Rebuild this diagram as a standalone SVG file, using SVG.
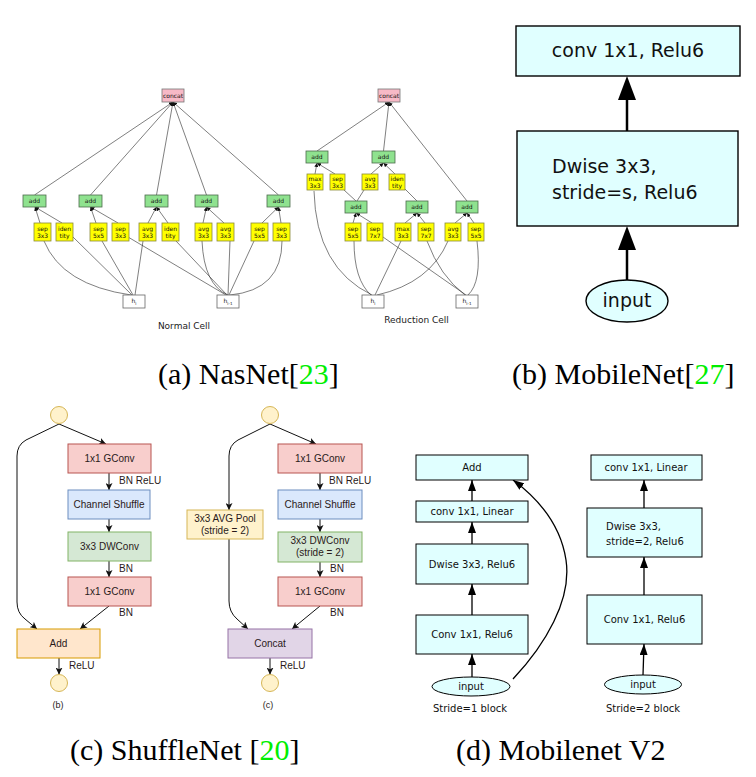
<svg xmlns="http://www.w3.org/2000/svg" width="756" height="777" viewBox="0 0 756 777">
<style>
  .nas { font-family: "DejaVu Sans", sans-serif; font-size: 6px; fill: #111; text-anchor: middle; }
  .nascap { font-family: "DejaVu Sans", sans-serif; font-size: 9px; fill: #222; text-anchor: middle; }
  .cat { fill: #f7b9c6; stroke: #777; stroke-width: 0.8; }
  .add { fill: #8fe28f; stroke: #4d6b4d; stroke-width: 0.8; }
  .op { fill: #ffff00; stroke: #8a8a3a; stroke-width: 0.8; }
  .hin { fill: #fff; stroke: #666; stroke-width: 0.8; }
  .ne { fill: none; stroke: #2a2a2a; stroke-width: 0.6; }
  .mb { fill: #e0ffff; stroke: #000; stroke-width: 1.4; }
  .mbt { font-family: "DejaVu Sans", sans-serif; font-size: 19px; fill: #111; }
  .mbe { fill: none; stroke: #000; stroke-width: 2.5; }
  .sh { font-family: "Liberation Sans", Arial, sans-serif; font-size: 10px; fill: #2a1a1a; }
  .shc { text-anchor: middle; }
  .se { fill: none; stroke: #111; stroke-width: 1; }
  .v2 { fill: #e0ffff; stroke: #000; stroke-width: 1; }
  .v2t { font-family: "DejaVu Sans", sans-serif; font-size: 10px; fill: #111; }
  .v2e { fill: none; stroke: #000; stroke-width: 1.3; }
  .cap { font-family: "Liberation Serif", "Times New Roman", serif; font-size: 30px; fill: #000; }
  .ref { fill: #00ee00; }
</style>
<defs>
  <marker id="ahNas" viewBox="0 0 6 6" refX="6" refY="3" markerWidth="4" markerHeight="4" markerUnits="userSpaceOnUse" orient="auto">
    <path d="M0,0 L6,3 L0,6 z" fill="#111"/>
  </marker>
  <marker id="ahBig" viewBox="0 0 24 18" refX="0" refY="9" markerWidth="24" markerHeight="18" markerUnits="userSpaceOnUse" orient="auto">
    <path d="M0,0 L24,9 L0,18 z" fill="#000"/>
  </marker>
  <marker id="ahShf" viewBox="0 0 8 8" refX="8" refY="4" markerWidth="7" markerHeight="7" markerUnits="userSpaceOnUse" orient="auto">
    <path d="M0,0 L8,4 L0,8 L2,4 z" fill="#111"/>
  </marker>
  <marker id="ahV2" viewBox="0 0 11 8" refX="11" refY="4" markerWidth="11" markerHeight="8" markerUnits="userSpaceOnUse" orient="auto">
    <path d="M0,0 L11,4 L0,8 z" fill="#000"/>
  </marker>
</defs>
<rect width="756" height="777" fill="#fff"/>

<!-- ===== (a) NasNet: normal cell ===== -->
<g id="nas-normal-edges">
  <!-- adds into concat -->
  <path class="ne" marker-end="url(#ahNas)" d="M34.5,195 L173,102"/>
  <path class="ne" marker-end="url(#ahNas)" d="M90.5,195 L173,102"/>
  <path class="ne" marker-end="url(#ahNas)" d="M156.5,195 L173,102"/>
  <path class="ne" marker-end="url(#ahNas)" d="M206.5,195 L173,102"/>
  <path class="ne" marker-end="url(#ahNas)" d="M278.5,195 L173,102"/>
  <!-- ops into adds -->
  <path class="ne" marker-end="url(#ahNas)" d="M40,223 L35,207"/>
  <path class="ne" marker-end="url(#ahNas)" d="M62,223 L35,207"/>
  <path class="ne" marker-end="url(#ahNas)" d="M96,223 L90.5,207"/>
  <path class="ne" marker-end="url(#ahNas)" d="M118,223 L90.5,207"/>
  <path class="ne" marker-end="url(#ahNas)" d="M148,223 L156.5,207"/>
  <path class="ne" marker-end="url(#ahNas)" d="M168,223 L156.5,207"/>
  <path class="ne" marker-end="url(#ahNas)" d="M203,223 L206.5,207"/>
  <path class="ne" marker-end="url(#ahNas)" d="M224,223 L206.5,207"/>
  <path class="ne" marker-end="url(#ahNas)" d="M262,223 L278.5,207"/>
  <path class="ne" marker-end="url(#ahNas)" d="M281,223 L278.5,207"/>
  <!-- inputs to ops -->
  <path class="ne" d="M44,241 Q62,285 131,295"/>
  <path class="ne" d="M73,237 L132,295"/>
  <path class="ne" d="M102,241 L133,295"/>
  <path class="ne" d="M128,237 L226,295"/>
  <path class="ne" d="M143,241 L135,295"/>
  <path class="ne" d="M176,241 L227,295"/>
  <path class="ne" d="M202,241 Q204,285 228,295"/>
  <path class="ne" d="M230,241 L228,295"/>
  <path class="ne" d="M254,241 L229,295"/>
  <path class="ne" d="M282,241 Q282,290 230,295"/>
</g>
<g id="nas-normal-concat"><rect class="cat" x="162" y="89" width="22" height="13"/><text class="nas" x="173" y="97.5">concat</text></g>
<g id="nas-normal-add1"><rect class="add" x="23" y="195" width="23" height="12"/><text class="nas" x="34.5" y="203">add</text></g>
<g id="nas-normal-add2"><rect class="add" x="79" y="195" width="23" height="12"/><text class="nas" x="90.5" y="203">add</text></g>
<g id="nas-normal-add3"><rect class="add" x="145" y="195" width="23" height="12"/><text class="nas" x="156.5" y="203">add</text></g>
<g id="nas-normal-add4"><rect class="add" x="195" y="195" width="23" height="12"/><text class="nas" x="206.5" y="203">add</text></g>
<g id="nas-normal-add5"><rect class="add" x="267" y="195" width="23" height="12"/><text class="nas" x="278.5" y="203">add</text></g>
<g id="nas-normal-op1"><rect class="op" x="34" y="223" width="17" height="18"/><text class="nas" x="42.5" y="230.5">sep</text><text class="nas" x="42.5" y="237.5">3x3</text></g>
<g id="nas-normal-op2"><rect class="op" x="56" y="223" width="17" height="18"/><text class="nas" x="64.5" y="230.5">iden</text><text class="nas" x="64.5" y="237.5">tity</text></g>
<g id="nas-normal-op3"><rect class="op" x="90" y="223" width="17" height="18"/><text class="nas" x="98.5" y="230.5">sep</text><text class="nas" x="98.5" y="237.5">5x5</text></g>
<g id="nas-normal-op4"><rect class="op" x="112" y="223" width="17" height="18"/><text class="nas" x="120.5" y="230.5">sep</text><text class="nas" x="120.5" y="237.5">3x3</text></g>
<g id="nas-normal-op5"><rect class="op" x="139" y="223" width="17" height="18"/><text class="nas" x="147.5" y="230.5">avg</text><text class="nas" x="147.5" y="237.5">3x3</text></g>
<g id="nas-normal-op6"><rect class="op" x="162" y="223" width="17" height="18"/><text class="nas" x="170.5" y="230.5">iden</text><text class="nas" x="170.5" y="237.5">tity</text></g>
<g id="nas-normal-op7"><rect class="op" x="195" y="223" width="17" height="18"/><text class="nas" x="203.5" y="230.5">avg</text><text class="nas" x="203.5" y="237.5">3x3</text></g>
<g id="nas-normal-op8"><rect class="op" x="217" y="223" width="17" height="18"/><text class="nas" x="225.5" y="230.5">avg</text><text class="nas" x="225.5" y="237.5">3x3</text></g>
<g id="nas-normal-op9"><rect class="op" x="251" y="223" width="17" height="18"/><text class="nas" x="259.5" y="230.5">sep</text><text class="nas" x="259.5" y="237.5">5x5</text></g>
<g id="nas-normal-op10"><rect class="op" x="273" y="223" width="17" height="18"/><text class="nas" x="281.5" y="230.5">sep</text><text class="nas" x="281.5" y="237.5">3x3</text></g>
<g id="nas-normal-hi"><rect class="hin" x="123" y="295" width="22" height="13"/><text class="nas" x="134" y="303">h<tspan font-size="4" dy="1.5">i</tspan></text></g>
<g id="nas-normal-hi1"><rect class="hin" x="217" y="295" width="22" height="13"/><text class="nas" x="228" y="303">h<tspan font-size="4" dy="1.5">i-1</tspan></text></g>
<text class="nascap" x="184" y="329">Normal Cell</text>

<!-- ===== (a) NasNet: reduction cell ===== -->
<g id="nas-red-edges">
  <path class="ne" marker-end="url(#ahNas)" d="M317,151 L389,102"/>
  <path class="ne" marker-end="url(#ahNas)" d="M383.5,151 L389,102"/>
  <path class="ne" marker-end="url(#ahNas)" d="M467,201 L389,102"/>
  <path class="ne" marker-end="url(#ahNas)" d="M315,174 L317,163"/>
  <path class="ne" marker-end="url(#ahNas)" d="M335,174 L317,163"/>
  <path class="ne" marker-end="url(#ahNas)" d="M371,174 L383.5,163"/>
  <path class="ne" marker-end="url(#ahNas)" d="M395,174 L383.5,163"/>
  <path class="ne" d="M344,190 L356,201"/>
  <path class="ne" d="M364,190 L357,201"/>
  <path class="ne" d="M404,188 L417,201"/>
  <path class="ne" marker-end="url(#ahNas)" d="M353,223 L356,213"/>
  <path class="ne" marker-end="url(#ahNas)" d="M372,223 L356,213"/>
  <path class="ne" marker-end="url(#ahNas)" d="M405,223 L417,213"/>
  <path class="ne" marker-end="url(#ahNas)" d="M425,223 L417,213"/>
  <path class="ne" marker-end="url(#ahNas)" d="M455,223 L467,213"/>
  <path class="ne" marker-end="url(#ahNas)" d="M474,223 L467,213"/>
  <path class="ne" d="M314,191 Q316,268 372,295"/>
  <path class="ne" d="M354,241 Q354,280 371,295"/>
  <path class="ne" d="M383,237 L466,295"/>
  <path class="ne" d="M401,241 L375,295"/>
  <path class="ne" d="M427,241 Q440,276 465,295"/>
  <path class="ne" d="M448,241 Q430,283 377,295"/>
  <path class="ne" d="M477,241 Q482,282 468,295"/>
</g>
<g id="nas-red-concat"><rect class="cat" x="378" y="89" width="22" height="13"/><text class="nas" x="389" y="97.5">concat</text></g>
<g id="nas-red-addA"><rect class="add" x="306" y="151" width="22" height="12"/><text class="nas" x="317" y="159">add</text></g>
<g id="nas-red-addB"><rect class="add" x="372" y="151" width="23" height="12"/><text class="nas" x="383.5" y="159">add</text></g>
<g id="nas-red-addC"><rect class="add" x="345" y="201" width="22" height="12"/><text class="nas" x="356" y="209">add</text></g>
<g id="nas-red-addD"><rect class="add" x="406" y="201" width="22" height="12"/><text class="nas" x="417" y="209">add</text></g>
<g id="nas-red-addE"><rect class="add" x="456" y="201" width="22" height="12"/><text class="nas" x="467" y="209">add</text></g>
<g id="nas-red-op1"><rect class="op" x="307" y="174" width="16" height="16"/><text class="nas" x="315" y="181">max</text><text class="nas" x="315" y="188">3x3</text></g>
<g id="nas-red-op2"><rect class="op" x="330" y="174" width="15" height="16"/><text class="nas" x="337.5" y="181">sep</text><text class="nas" x="337.5" y="188">3x3</text></g>
<g id="nas-red-op3"><rect class="op" x="362" y="174" width="16" height="16"/><text class="nas" x="370" y="181">avg</text><text class="nas" x="370" y="188">3x3</text></g>
<g id="nas-red-op4"><rect class="op" x="389" y="174" width="16" height="16"/><text class="nas" x="397" y="181">iden</text><text class="nas" x="397" y="188">tity</text></g>
<g id="nas-red-op5"><rect class="op" x="345" y="223" width="16" height="18"/><text class="nas" x="353" y="230.5">sep</text><text class="nas" x="353" y="237.5">5x5</text></g>
<g id="nas-red-op6"><rect class="op" x="367" y="223" width="16" height="18"/><text class="nas" x="375" y="230.5">sep</text><text class="nas" x="375" y="237.5">7x7</text></g>
<g id="nas-red-op7"><rect class="op" x="395" y="223" width="16" height="18"/><text class="nas" x="403" y="230.5">max</text><text class="nas" x="403" y="237.5">3x3</text></g>
<g id="nas-red-op8"><rect class="op" x="418" y="223" width="16" height="18"/><text class="nas" x="426" y="230.5">sep</text><text class="nas" x="426" y="237.5">7x7</text></g>
<g id="nas-red-op9"><rect class="op" x="445" y="223" width="16" height="18"/><text class="nas" x="453" y="230.5">avg</text><text class="nas" x="453" y="237.5">3x3</text></g>
<g id="nas-red-op10"><rect class="op" x="468" y="223" width="16" height="18"/><text class="nas" x="476" y="230.5">sep</text><text class="nas" x="476" y="237.5">5x5</text></g>
<g id="nas-red-hi"><rect class="hin" x="362" y="295" width="22" height="13"/><text class="nas" x="373" y="303">h<tspan font-size="4" dy="1.5">i</tspan></text></g>
<g id="nas-red-hi1"><rect class="hin" x="456" y="295" width="22" height="13"/><text class="nas" x="467" y="303">h<tspan font-size="4" dy="1.5">i-1</tspan></text></g>
<text class="nascap" x="416.5" y="323">Reduction Cell</text>

<!-- ===== (b) MobileNet ===== -->
<g id="mb-edges">
  <path class="mbe" marker-end="url(#ahBig)" d="M627,131 L627,100"/>
  <path class="mbe" marker-end="url(#ahBig)" d="M627,280 L627,250"/>
</g>
<g id="mb-conv"><rect class="mb" x="516" y="26" width="224" height="50"/><text class="mbt" x="628" y="57" text-anchor="middle">conv 1x1, Relu6</text></g>
<g id="mb-dwise"><rect class="mb" x="517" y="131" width="221" height="95"/><text class="mbt" x="552" y="173">Dwise 3x3,</text><text class="mbt" x="552" y="199">stride=s, Relu6</text></g>
<g id="mb-input"><ellipse class="mb" cx="627" cy="301" rx="41" ry="21"/><text class="mbt" x="627" y="307" text-anchor="middle">input</text></g>

<!-- ===== (c) ShuffleNet units ===== -->
<g id="shf-edges">
  <path class="se" marker-end="url(#ahShf)" d="M59,424 L106,444"/>
  <path class="se" marker-end="url(#ahShf)" d="M59,424 L26,440 Q17,445 17,456 L17,602 Q17,613 25,619 L37,629"/>
  <path class="se" marker-end="url(#ahShf)" d="M109,473 L109,490"/>
  <path class="se" marker-end="url(#ahShf)" d="M109,519 L109,532"/>
  <path class="se" marker-end="url(#ahShf)" d="M109,561 L109,577"/>
  <path class="se" marker-end="url(#ahShf)" d="M109,606 L80,629"/>
  <path class="se" marker-end="url(#ahShf)" d="M59,658 L59,674.5"/>

  <path class="se" marker-end="url(#ahShf)" d="M270,424 L316,444"/>
  <path class="se" marker-end="url(#ahShf)" d="M270,424 L238,440 Q229,445 229,456 L229,510"/>
  <path class="se" marker-end="url(#ahShf)" d="M229,539 L229,601 Q229,612 237,619 L248,629"/>
  <path class="se" marker-end="url(#ahShf)" d="M320,473 L320,490"/>
  <path class="se" marker-end="url(#ahShf)" d="M320,519 L320,532"/>
  <path class="se" marker-end="url(#ahShf)" d="M320,562 L320,577"/>
  <path class="se" marker-end="url(#ahShf)" d="M320,606 L292,629"/>
  <path class="se" marker-end="url(#ahShf)" d="M270,658 L270,674.5"/>
</g>
<g id="shf-b-labels" class="sh">
  <text x="119" y="484">BN ReLU</text>
  <text x="119" y="572">BN</text>
  <text x="119" y="616">BN</text>
  <text x="69" y="669">ReLU</text>
  <text x="58" y="708" class="shc" font-size="9">(b)</text>
</g>
<g id="shf-b-in"><circle cx="59" cy="415" r="8.5" fill="#fff2cc" stroke="#d6b656"/></g>
<g id="shf-b-gconv1"><rect x="68" y="444" width="83" height="29" fill="#f8cecc" stroke="#b85450"/><text class="sh shc" x="109.5" y="462">1x1 GConv</text></g>
<g id="shf-b-shuffle"><rect x="68" y="490" width="82" height="29" fill="#dae8fc" stroke="#6c8ebf"/><text class="sh shc" x="109" y="508">Channel Shuffle</text></g>
<g id="shf-b-dwconv"><rect x="68" y="532" width="83" height="29" fill="#d5e8d4" stroke="#82b366"/><text class="sh shc" x="109.5" y="550">3x3 DWConv</text></g>
<g id="shf-b-gconv2"><rect x="68" y="577" width="83" height="29" fill="#f8cecc" stroke="#b85450"/><text class="sh shc" x="109.5" y="595">1x1 GConv</text></g>
<g id="shf-b-add"><rect x="17" y="629" width="83" height="29" fill="#ffe6cc" stroke="#d79b00"/><text class="sh shc" x="58.5" y="647">Add</text></g>
<g id="shf-b-out"><circle cx="59" cy="683" r="8.5" fill="#fff2cc" stroke="#d6b656"/></g>

<g id="shf-c-labels" class="sh">
  <text x="329" y="484">BN ReLU</text>
  <text x="330" y="572">BN</text>
  <text x="330" y="616">BN</text>
  <text x="280" y="669">ReLU</text>
  <text x="268" y="708" class="shc" font-size="9">(c)</text>
</g>
<g id="shf-c-in"><circle cx="270" cy="415" r="8.5" fill="#fff2cc" stroke="#d6b656"/></g>
<g id="shf-c-gconv1"><rect x="278" y="444" width="84" height="29" fill="#f8cecc" stroke="#b85450"/><text class="sh shc" x="320" y="462">1x1 GConv</text></g>
<g id="shf-c-shuffle"><rect x="278" y="490" width="84" height="29" fill="#dae8fc" stroke="#6c8ebf"/><text class="sh shc" x="320" y="508">Channel Shuffle</text></g>
<g id="shf-c-dwconv"><rect x="278" y="532" width="84" height="30" fill="#d5e8d4" stroke="#82b366"/><text class="sh shc" x="320" y="544">3x3 DWConv</text><text class="sh shc" x="320" y="556">(stride = 2)</text></g>
<g id="shf-c-gconv2"><rect x="278" y="577" width="84" height="29" fill="#f8cecc" stroke="#b85450"/><text class="sh shc" x="320" y="595">1x1 GConv</text></g>
<g id="shf-c-avgpool"><rect x="187" y="510" width="76" height="29" fill="#fff2cc" stroke="#d6b656"/><text class="sh shc" x="225" y="522">3x3 AVG Pool</text><text class="sh shc" x="225" y="534">(stride = 2)</text></g>
<g id="shf-c-concat"><rect x="228" y="629" width="84" height="29" fill="#e1d5e7" stroke="#9673a6"/><text class="sh shc" x="270" y="647">Concat</text></g>
<g id="shf-c-out"><circle cx="270" cy="683" r="8.5" fill="#fff2cc" stroke="#d6b656"/></g>

<!-- ===== (d) MobileNet V2 blocks ===== -->
<g id="v2-edges">
  <path class="v2e" marker-end="url(#ahV2)" d="M472,501 L472,480"/>
  <path class="v2e" marker-end="url(#ahV2)" d="M472,544 L472,522"/>
  <path class="v2e" marker-end="url(#ahV2)" d="M472,615 L472,584"/>
  <path class="v2e" marker-end="url(#ahV2)" d="M472,677 L472,654"/>
  <path class="v2e" marker-end="url(#ahV2)" d="M513,679 C545,645 572,600 566,560 C561,527 540,500 513,480"/>
  <path class="v2e" marker-end="url(#ahV2)" d="M644,508 L644,480"/>
  <path class="v2e" marker-end="url(#ahV2)" d="M644,595 L644,557"/>
  <path class="v2e" marker-end="url(#ahV2)" d="M643,675 L644,644"/>
</g>
<g id="v2s1-add"><rect class="v2" x="416" y="455" width="112" height="25"/><text class="v2t" x="472" y="471" text-anchor="middle">Add</text></g>
<g id="v2s1-linear"><rect class="v2" x="416" y="501" width="112" height="21"/><text class="v2t" x="472" y="515" text-anchor="middle">conv 1x1, Linear</text></g>
<g id="v2s1-dwise"><rect class="v2" x="416" y="544" width="112" height="40"/><text class="v2t" x="472" y="568" text-anchor="middle">Dwise 3x3, Relu6</text></g>
<g id="v2s1-conv"><rect class="v2" x="416" y="615" width="112" height="39"/><text class="v2t" x="472" y="638" text-anchor="middle">Conv 1x1, Relu6</text></g>
<g id="v2s1-input"><ellipse class="v2" cx="471" cy="686.5" rx="39" ry="9.5"/><text class="v2t" x="471" y="690" text-anchor="middle">input</text></g>
<text class="v2t" x="470" y="712" font-size="12.5" text-anchor="middle">Stride=1 block</text>

<g id="v2s2-linear"><rect class="v2" x="591" y="455" width="111" height="25"/><text class="v2t" x="646" y="471" text-anchor="middle">conv 1x1, Linear</text></g>
<g id="v2s2-dwise"><rect class="v2" x="587" y="508" width="115" height="49"/><text class="v2t" x="606" y="530">Dwise 3x3,</text><text class="v2t" x="606" y="545">stride=2, Relu6</text></g>
<g id="v2s2-conv"><rect class="v2" x="587" y="595" width="115" height="49"/><text class="v2t" x="644.5" y="623" text-anchor="middle">Conv 1x1, Relu6</text></g>
<g id="v2s2-input"><ellipse class="v2" cx="643" cy="684.5" rx="38.5" ry="9.5"/><text class="v2t" x="643" y="688" text-anchor="middle">input</text></g>
<text class="v2t" x="643" y="712" font-size="12.5" text-anchor="middle">Stride=2 block</text>

<!-- ===== sub-figure captions ===== -->
<text class="cap" x="158" y="384">(a) NasNet[<tspan class="ref">23</tspan>]</text>
<text class="cap" x="512" y="384">(b) MobileNet[<tspan class="ref">27</tspan>]</text>
<text class="cap" x="70" y="760">(c) ShuffleNet [<tspan class="ref">20</tspan>]</text>
<text class="cap" x="456" y="760">(d) Mobilenet V2</text>
</svg>
